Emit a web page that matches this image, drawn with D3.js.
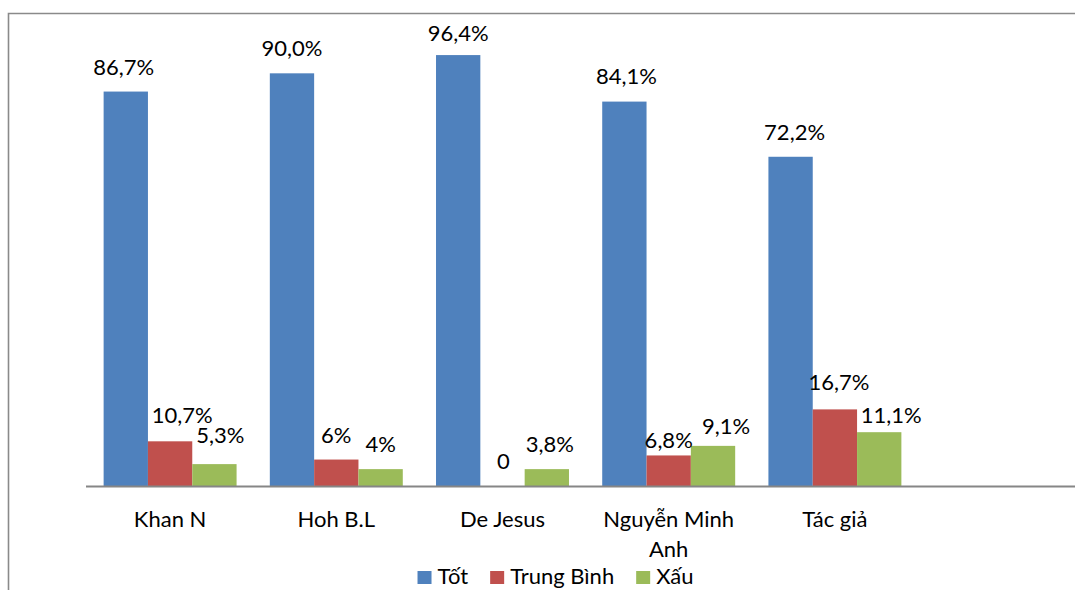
<!DOCTYPE html>
<html>
<head>
<meta charset="utf-8">
<script src="https://cdn.jsdelivr.net/npm/d3@7"></script>
<style>
  html, body { margin: 0; padding: 0; background: #fff; }
  svg { display: block; }
  text { font-family: Lato, "Open Sans", sans-serif; fill: #000; }
</style>
</head>
<body>
<svg id="chart" width="1075" height="590"></svg>
<script>
// ---- data ----
const categories = ["Khan N", "Hoh B.L", "De Jesus", "Nguyễn Minh Anh", "Tác giả"];
const seriesNames = ["Tốt", "Trung Bình", "Xấu"];
const tot = [86.5, 90.5, 94.5, 84.3, 72.2];
const trungBinh = [9.8, 5.8, 0, 6.7, 16.8];
const xau = [4.8, 3.7, 3.7, 8.8, 11.8];
const totLabels = ["86,7%", "90,0%", "96,4%", "84,1%", "72,2%"];
const trungBinhLabels = ["10,7%", "6%", "0", "6,8%", "16,7%"];
const xauLabels = ["5,3%", "4%", "3,8%", "9,1%", "11,1%"];
const colors = ["#4F81BD", "#C0504D", "#9BBB59"];

// manual label nudges (dx, dy) as in the original
const labelNudge = [
  [[-2, 0], [0, 0], [0, 3], [2, -1], [4, 0]],
  [[12, -1], [0, 0], [1, 0], [0, 10], [4, -2]],
  [[6, -4], [0, 0], [3, 0], [13, 5], [12, 8]]
];

const values = [tot, trungBinh, xau];
const labels = [totLabels, trungBinhLabels, xauLabels];

// ---- layout ----
const W = 1075, H = 590;
const plotLeft = 87, step = 166.2, baseY = 486;
const svg = d3.select("#chart");

// frame
svg.append("path")
  .attr("d", `M8.5,${H} L8.5,13.5 L${W},13.5`)
  .attr("fill", "none").attr("stroke", "#8a8a8a").attr("stroke-width", 1.6);

const x0 = d3.scaleBand().domain(categories)
  .range([plotLeft, plotLeft + step * categories.length])
  .paddingInner(0).paddingOuter(0);
const x1 = d3.scaleBand().domain(seriesNames)
  .range([0, x0.bandwidth()]).paddingInner(0).paddingOuter(0.375);
const y = d3.scaleLinear().domain([0, 100]).range([baseY, 30]);

const groups = svg.append("g").selectAll("g")
  .data(categories).join("g")
  .attr("transform", d => `translate(${x0(d)},0)`);

groups.each(function (cat, ci) {
  const g = d3.select(this);
  seriesNames.forEach((s, si) => {
    const v = values[si][ci];
    if (v > 0) {
      g.append("rect")
        .attr("x", x1(s))
        .attr("y", y(v))
        .attr("width", x1.bandwidth())
        .attr("height", y(0) - y(v))
        .attr("fill", colors[si]);
    }
  });
});

// axis line
svg.append("line")
  .attr("x1", x0.range()[0] - 1).attr("x2", W)
  .attr("y1", y(0) + 0.5).attr("y2", y(0) + 0.5)
  .attr("stroke", "#868686").attr("stroke-width", 2);

// data labels
groups.each(function (cat, ci) {
  const g = d3.select(this);
  seriesNames.forEach((s, si) => {
    const v = values[si][ci];
    const [dx, dy] = labelNudge[si][ci];
    g.append("text")
      .attr("x", x1(s) + x1.bandwidth() / 2 + dx)
      .attr("y", y(v) - 17 + dy)
      .attr("text-anchor", "middle")
      .attr("font-size", 22)
      .text(labels[si][ci]);
  });
});

// category labels with wrapping
groups.each(function (cat) {
  const g = d3.select(this);
  const t = g.append("text")
    .attr("text-anchor", "middle")
    .attr("font-size", 22)
    .attr("y", 527);
  const words = cat.split(" ");
  let line = [];
  let tspan = t.append("tspan").attr("x", x0.bandwidth() / 2);
  let lineNo = 0;
  words.forEach(w => {
    line.push(w);
    tspan.text(line.join(" "));
    if (tspan.node().getComputedTextLength() > x0.bandwidth() - 10 && line.length > 1) {
      line.pop();
      tspan.text(line.join(" "));
      line = [w];
      lineNo++;
      tspan = t.append("tspan").attr("x", x0.bandwidth() / 2).attr("dy", 30).text(w);
    }
  });
});

// legend
const legend = svg.append("g");
let lx = 0;
seriesNames.forEach((s, si) => {
  const item = legend.append("g").attr("transform", `translate(${lx},0)`);
  item.append("rect").attr("x", 0).attr("y", 571).attr("width", 14).attr("height", 13).attr("fill", colors[si]);
  const tx = item.append("text").attr("x", 20).attr("y", 583.5).attr("font-size", 22).text(s);
  lx += 20 + tx.node().getComputedTextLength() + 22;
});
const legendW = lx - 22;
legend.attr("transform", `translate(${555.5 - legendW / 2},0)`);
</script>
</body>
</html>
